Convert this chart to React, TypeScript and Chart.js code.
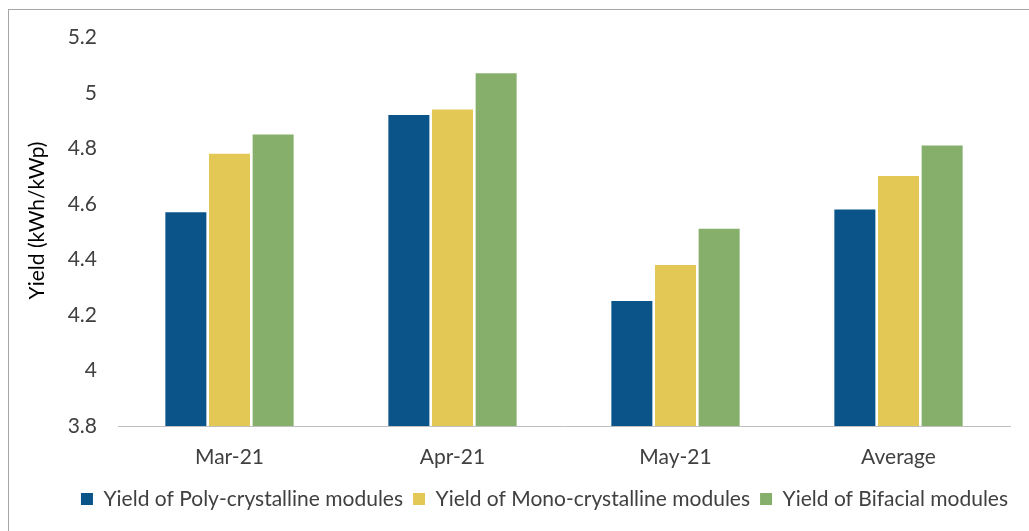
import React, { useEffect, useRef } from 'react';
import { Chart, registerables } from 'chart.js';

Chart.register(...registerables);

const categories = ['Mar-21', 'Apr-21', 'May-21', 'Average'];
const polyYield = [4.57, 4.92, 4.25, 4.58];
const monoYield = [4.78, 4.94, 4.38, 4.7];
const bifacialYield = [4.85, 5.07, 4.51, 4.81];
const seriesLabels = [
  'Yield of Poly-crystalline modules',
  'Yield of Mono-crystalline modules',
  'Yield of Bifacial modules',
];
const seriesColors = ['#0A5489', '#E4C855', '#87AF6C'];
const yMin = 3.8;
const yAxisTop = 5.28; // plot area extends a bit above the 5.2 tick
const yStep = 0.2;
const yTitle = 'Yield (kWh/kWp)';

const FONT = 'Lato, "Noto Sans", sans-serif';

const legendShift = {
  id: 'legendShift',
  afterLayout(chart: any) {
    const lg = chart.legend;
    if (!lg) return;
    const c = (lg.left + lg.right) / 2;
    const d = 544.5 - c;
    lg.left += d;
    lg.right += d;
  },
};

export default function App() {
  const ref = useRef<HTMLCanvasElement>(null);
  useEffect(() => {
    if (!ref.current) return;
    const values = [polyYield, monoYield, bifacialYield];
    const chart = new Chart(ref.current, {
      type: 'bar',
      data: {
        labels: categories,
        datasets: values.map((v, i) => ({
          label: seriesLabels[i],
          data: v,
          backgroundColor: seriesColors[i],
          borderWidth: 0,
          categoryPercentage: 0.587,
          barPercentage: 0.94,
        })),
      },
      plugins: [legendShift],
      options: {
        responsive: false,
        animation: false,
        layout: { padding: { left: 21, right: 79, top: 15, bottom: 11.5 } },
        plugins: {
          legend: {
            position: 'bottom',
            labels: {
              font: { family: FONT, size: 21 },
              color: '#404040',
              boxWidth: 12,
              boxHeight: 12,
              padding: 10,
            },
          },
          tooltip: { enabled: false },
        },
        scales: {
          x: {
            grid: { display: false, drawTicks: false },
            border: { display: true, color: '#BFBFBF', width: 1 },
            ticks: { font: { family: FONT, size: 21 }, color: '#404040', padding: 19 },
            afterFit: (s: any) => {
              s.height = 52.5;
            },
          },
          y: {
            min: yMin,
            max: yAxisTop,
            grid: { display: false, drawTicks: false },
            border: { display: false },
            ticks: {
              stepSize: yStep,
              includeBounds: false,
              font: { family: FONT, size: 21 },
              color: '#404040',
              padding: 21,
              callback: (v: any) => String(Math.round(Number(v) * 10) / 10),
            },
            title: {
              display: true,
              text: yTitle,
              font: { family: FONT, size: 21 },
              color: '#000000',
              padding: { top: 4, bottom: 0 },
            },
            afterFit: (s: any) => {
              s.width = 97;
              s.paddingTop = 0;
              s.paddingBottom = 0;
            },
          },
        },
      },
    });
    return () => chart.destroy();
  }, []);

  return (
    <div
      style={{
        position: 'fixed',
        left: 0,
        top: 0,
        width: 1029,
        height: 531,
        overflow: 'hidden',
        background: '#ffffff',
      }}
    >
      <div
        style={{
          position: 'absolute',
          left: 8,
          top: 9,
          width: 1200,
          height: 700,
          borderLeft: '1px solid #A6A6A6',
          borderTop: '1px solid #A6A6A6',
        }}
      />
      <canvas
        ref={ref}
        width={1089}
        height={531}
        style={{ position: 'absolute', left: 0, top: 0, display: 'block' }}
      />
    </div>
  );
}
